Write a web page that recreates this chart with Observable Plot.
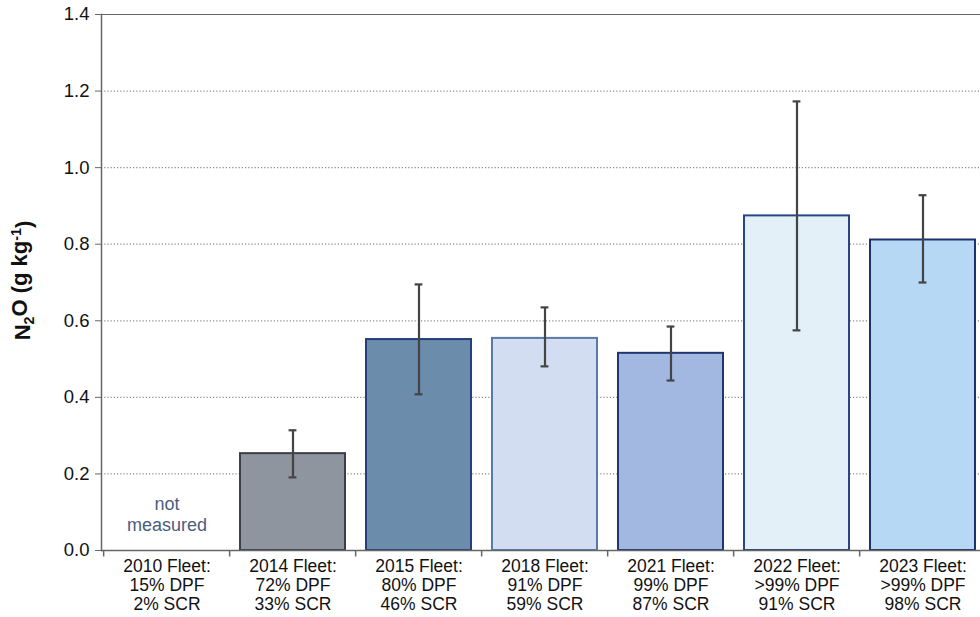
<!DOCTYPE html>
<html>
<head>
<meta charset="utf-8">
<script src="https://cdn.jsdelivr.net/npm/d3@7"></script>
<script src="https://cdn.jsdelivr.net/npm/@observablehq/plot@0.6"></script>
<style>
  html, body { margin: 0; padding: 0; background: #fff; overflow: hidden; }
  #chart svg { display: block; overflow: visible; }
</style>
</head>
<body>
<div id="chart"></div>
<script>
// ---- data ----
const categories = ["2010", "2014", "2015", "2018", "2021", "2022", "2023"];
const tickLabels = [
  "2010 Fleet:\n15% DPF\n2% SCR",
  "2014 Fleet:\n72% DPF\n33% SCR",
  "2015 Fleet:\n80% DPF\n46% SCR",
  "2018 Fleet:\n91% DPF\n59% SCR",
  "2021 Fleet:\n99% DPF\n87% SCR",
  "2022 Fleet:\n>99% DPF\n91% SCR",
  "2023 Fleet:\n>99% DPF\n98% SCR"
];
const n2o   = [null, 0.253, 0.551, 0.554, 0.515, 0.874, 0.811];
const errLo = [null, 0.191, 0.408, 0.481, 0.444, 0.575, 0.700];
const errHi = [null, 0.314, 0.695, 0.635, 0.585, 1.173, 0.928];
const yTicks = [0, 0.2, 0.4, 0.6, 0.8, 1.0, 1.2, 1.4];
const notMeasured = [{cat: "2010", value: 0.095, text: "not\nmeasured"}];
const yLabel = "N2O (g kg-1)";

// ---- styles ----
const fillColors   = ["#ffffff", "#8e959e", "#6b8cab", "#d2ddf1", "#a2b8e1", "#e3f0f8", "#b6d8f4"];
const strokeColors = ["#ffffff", "#3b4048", "#233f7c", "#5a7aa6", "#1f3670", "#2a4584", "#1c326e"];

const rows = categories.map((c, i) => ({
  cat: c, value: n2o[i], lo: errLo[i], hi: errHi[i],
  fill: fillColors[i], stroke: strokeColors[i]
}));
const bars = rows.filter(d => d.value != null);

const W = 980, H = 617, ML = 101, MR = -8, MT = 14, MB = 67;
const step = (W - ML - MR) / categories.length;
const padInner = 0.17;
const bandW = step * (1 - padInner);
const capW = 8;
const FS = 17.5;

const plot = Plot.plot({
  width: W,
  height: H,
  marginLeft: ML,
  marginRight: MR,
  marginTop: MT,
  marginBottom: MB,
  style: {fontFamily: "'Liberation Sans', Arial, Helvetica, sans-serif", fontSize: FS + "px", color: "#111", background: "#fff"},
  x: {domain: categories, paddingInner: padInner, paddingOuter: padInner / 2, axis: null},
  y: {domain: [0, 1.4], axis: null},
  marks: [
    // dotted gridlines
    Plot.ruleY(yTicks.filter(v => v > 0 && v < 1.4), {stroke: "#8a8a8a", strokeWidth: 1.2, strokeDasharray: "1.2,2"}),
    Plot.ruleY([1.4], {stroke: "#666", strokeWidth: 1.2}),
    // bars
    Plot.barY(bars, {x: "cat", y: "value", fill: "fill", stroke: "stroke", strokeWidth: 2}),
    // error bars
    Plot.ruleX(bars, {x: "cat", y1: "lo", y2: "hi", stroke: "#444", strokeWidth: 2.2}),
    Plot.tickY(bars, {x: "cat", y: "lo", stroke: "#444", strokeWidth: 2.2, insetLeft: (bandW - capW) / 2, insetRight: (bandW - capW) / 2}),
    Plot.tickY(bars, {x: "cat", y: "hi", stroke: "#444", strokeWidth: 2.2, insetLeft: (bandW - capW) / 2, insetRight: (bandW - capW) / 2}),
    // not measured text
    Plot.text(notMeasured, {x: "cat", y: "value", text: "text", fill: "#4a5d7c", fontSize: 18, lineHeight: 1.17}),
    // axes lines
    Plot.ruleY([0], {stroke: "#666", strokeWidth: 1.5}),
    Plot.frame({anchor: "left", stroke: "#666", strokeWidth: 1.5}),
    // y axis ticks & labels
    Plot.axisY(yTicks, {anchor: "left", tickSize: 6, tickPadding: 6, tickFormat: d3.format(".1f"), stroke: "#666", fill: "#111", fontSize: 18.5, label: null}),
    // x category boundary ticks
    Plot.ruleX(categories, {x: d => d, dx: -step / 2, y1: 0, y2: -0.017, stroke: "#666", strokeWidth: 1.5}),
    Plot.ruleX(categories.slice(-1), {x: d => d, dx: step / 2, y1: 0, y2: -0.017, stroke: "#666", strokeWidth: 1.5}),
    // x axis labels
    Plot.axisX(categories, {anchor: "bottom", tickSize: 0, tickPadding: 8, tickFormat: d => tickLabels[categories.indexOf(d)], fontSize: FS, lineHeight: 1.08, fill: "#111", label: null}),
    // y label
    Plot.text([yLabel], {frameAnchor: "left", textAnchor: "middle", dx: -79, dy: -2, rotate: -90, fontWeight: "bold", fontSize: 22, fill: "#111"})
  ]
});
document.getElementById("chart").append(plot);

// rich-text subscript / superscript for the y label
d3.select(plot).selectAll("text").filter(function() { return this.textContent === yLabel; }).each(function() {
  const t = d3.select(this);
  t.text(null);
  t.append("tspan").text("N");
  t.append("tspan").attr("font-size", "0.65em").attr("dy", "0.3em").text("2");
  t.append("tspan").attr("dy", "-0.3em").text("O (g kg");
  t.append("tspan").attr("font-size", "0.65em").attr("dy", "-0.45em").text("-1");
  t.append("tspan").attr("dy", "0.45em").text(")");
});
</script>
</body>
</html>
